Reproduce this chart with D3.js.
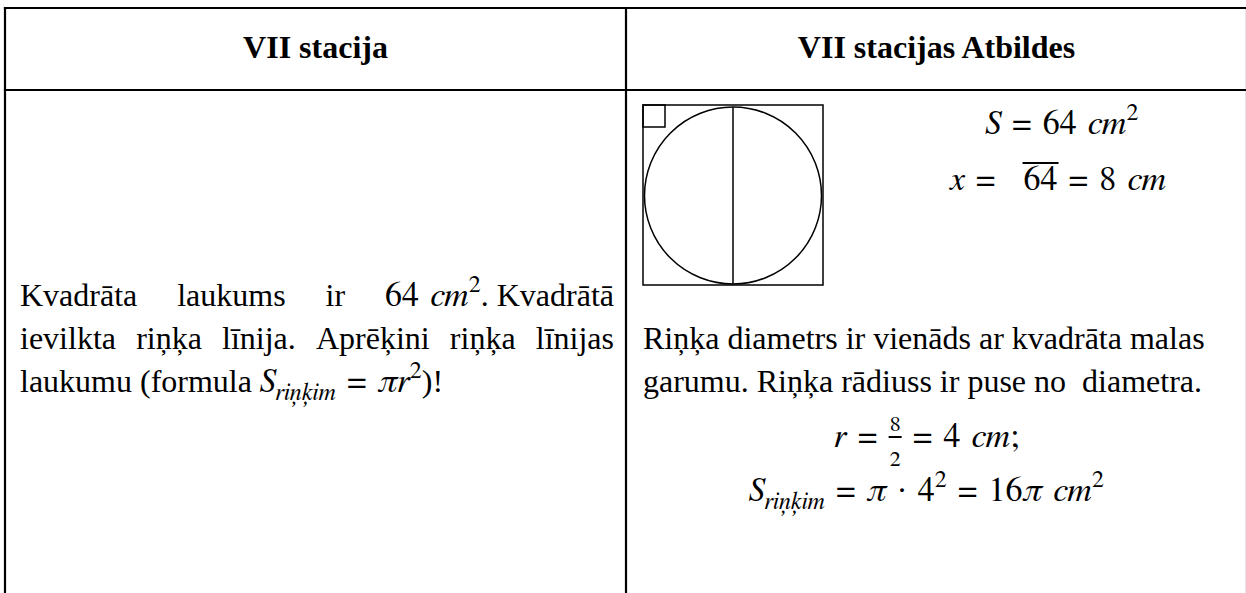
<!DOCTYPE html>
<html>
<head>
<meta charset="utf-8">
<script src="https://cdn.jsdelivr.net/npm/d3@7"></script>
<style>
  body { margin: 0; background: #fff; }
</style>
</head>
<body>
<svg id="chart" width="1246" height="593"></svg>
<script>
//
// Data
//

// column headings
const headers = ["VII stacija", "VII stacijas Atbildes"];

// task text (left column): each line is a list of words, each word a list of [text, kind] runs
const taskLines = [
  [[["Kvadrāta"]], [["laukums"]], [["ir"]], [["64\u2004", "n"], ["cm", "m"], ["2", "sup"], [".\u00a0Kvadrātā"]]],
  [[["ievilkta"]], [["riņķa"]], [["līnija."]], [["Aprēķini"]], [["riņķa"]], [["līnijas"]]],
  [[["laukumu\u00a0(formula\u00a0"], ["S", "m"], ["riņķim", "sub"], ["\u2004=\u2004", "n"], ["πr", "m"], ["2", "sup"], [")!"]]]
];

// answer formulas next to the drawing
const answerTop = [
  [["S", "m"], ["\u2004=\u200464\u2004", "n"], ["cm", "m"], ["2", "sup"]],
  [["x", "m"], ["\u2004=\u2004\u2004\u2009", "n"], ["64", "ol"], ["\u2004=\u20048\u2004", "n"], ["cm", "m"]]
];

// answer text lines (right column)
const answerLines = [
  "Riņķa diametrs ir vienāds ar kvadrāta malas",
  "garumu. Riņķa rādiuss ir puse no\u00a0 diametra."
];

// answer formulas below the text
const answerBottom = [
  [["r", "m"], ["\u2004=\u2004", "n"], ["8|2", "frac"], ["\u2004=\u20044\u2004", "n"], ["cm", "m"], [";", "n"]],
  [["S", "m"], ["riņķim", "sub"], ["\u2004=\u2004", "n"], ["π", "m"], ["\u2004·\u2004", "n"], ["4", "n"], ["2", "sup"],
   ["\u2004=\u200416", "n"], ["π", "m"], ["\u2004", "n"], ["cm", "m"], ["2", "sup"]]
];

//
// Styles
//

const textFont = "Liberation Serif";
const mathFont = "FreeSerif";
const kinds = {
  t:   { size: 32, italic: false, dy: 0,   font: textFont },
  m:   { size: 34, italic: true,  dy: 0,   font: mathFont },
  n:   { size: 34, italic: false, dy: 0,   font: mathFont },
  ol:  { size: 34, italic: false, dy: 0,   font: mathFont },
  sup: { size: 24, italic: false, dy: -14, font: mathFont },
  sub: { size: 24, italic: true,  dy: 8,   font: mathFont }
};

const borderWidth = 2.2;

//
// Layout
//

const svg = d3.select("#chart");
const W = +svg.attr("width"), H = +svg.attr("height");

const col = d3.scaleBand().domain(headers).range([5, 1247]).padding(0);
const row = d3.scaleOrdinal().domain(["head", "body"]).range([8, 90]);

// draws a list of runs, returns its width
function drawRuns(g, list, x, y, anchor) {
  const parts = list.map(function(r) {
    const text = r[0], kind = r[1] || "t";
    if (kind === "frac") {
      const nd = text.split("|");
      const fg = g.append("g");
      const num = fg.append("text").attr("font-family", mathFont).attr("font-size", 22)
        .attr("text-anchor", "middle").attr("y", y - 16).text(nd[0]);
      const den = fg.append("text").attr("font-family", mathFont).attr("font-size", 22)
        .attr("text-anchor", "middle").attr("y", y + 19).text(nd[1]);
      const w = Math.max(num.node().getComputedTextLength(), den.node().getComputedTextLength()) + 2;
      const bar = fg.append("line").attr("y1", y - 10).attr("y2", y - 10).attr("stroke", "#000").attr("stroke-width", 2);
      return {
        w: w,
        place: function(cx) {
          num.attr("x", cx + w / 2); den.attr("x", cx + w / 2);
          bar.attr("x1", cx).attr("x2", cx + w);
        }
      };
    }
    const st = kinds[kind];
    const el = g.append("text")
      .attr("y", y + st.dy)
      .attr("font-family", st.font)
      .attr("font-size", st.size)
      .attr("font-style", st.italic ? "italic" : "normal")
      .attr("fill", "#000")
      .text(text);
    const w = el.node().getComputedTextLength();
    let over;
    if (kind === "ol") {
      over = g.append("line").attr("y1", y - 27).attr("y2", y - 27).attr("stroke", "#000").attr("stroke-width", 2.2);
    }
    return {
      w: w,
      place: function(cx) {
        el.attr("x", cx);
        if (over) over.attr("x1", cx - 1).attr("x2", cx + w + 1);
      }
    };
  });
  const total = d3.sum(parts, function(p) { return p.w; });
  let cx = anchor === "middle" ? x - total / 2 : x;
  parts.forEach(function(p) { p.place(cx); cx += p.w; });
  return total;
}

// justified line: spread the words between x0 and x1
function drawJustified(g, words, x0, x1, y, justify) {
  const wg = words.map(function(w) {
    const sub = g.append("g");
    const width = drawRuns(sub, w, 0, y, "start");
    return { g: sub, w: width };
  });
  const gap = justify && wg.length > 1
    ? (x1 - x0 - d3.sum(wg, function(d) { return d.w; })) / (wg.length - 1)
    : 7;
  let cx = x0;
  wg.forEach(function(d) {
    d.g.attr("transform", "translate(" + cx + ",0)");
    cx += d.w + gap;
  });
}

//
// Table
//

const grid = svg.append("g").attr("stroke", "#000").attr("stroke-width", borderWidth);
grid.append("line").attr("x1", col(headers[0]) - borderWidth / 2).attr("x2", W).attr("y1", row("head")).attr("y2", row("head"));
grid.append("line").attr("x1", col(headers[0]) - borderWidth / 2).attr("x2", W).attr("y1", row("body")).attr("y2", row("body"));
headers.concat(["end"]).forEach(function(h, i) {
  const x = i < headers.length ? col(h) : col(headers[1]) + col.bandwidth();
  grid.append("line").attr("x1", x).attr("x2", x).attr("y1", row("head") - borderWidth / 2).attr("y2", H);
});

svg.selectAll("text.head")
  .data(headers)
  .join("text")
  .attr("class", "head")
  .attr("x", function(d) { return col(d) + col.bandwidth() / 2; })
  .attr("y", 58)
  .attr("text-anchor", "middle")
  .attr("font-family", textFont)
  .attr("font-size", 32)
  .attr("font-weight", "bold")
  .attr("fill", "#000")
  .text(function(d) { return d; });

//
// Left column: task
//

const left = svg.append("g");
const lx0 = col(headers[0]) + 15, lx1 = col(headers[0]) + col.bandwidth() - 12;
taskLines.forEach(function(words, i) {
  drawJustified(left, words, lx0, lx1, 306 + i * 43, i < taskLines.length - 1);
});

//
// Right column: drawing and answer
//

const right = svg.append("g");
const rx = col(headers[1]);
const sq = { x: rx + 17, y: 105, s: 180 };
const fig = right.append("g").attr("fill", "none").attr("stroke", "#000").attr("stroke-width", 1.5);
fig.append("rect").attr("x", sq.x).attr("y", sq.y).attr("width", sq.s).attr("height", sq.s);
fig.append("rect").attr("x", sq.x).attr("y", sq.y).attr("width", 22).attr("height", 22);
fig.append("circle").attr("cx", sq.x + sq.s / 2).attr("cy", sq.y + sq.s / 2 + 0.5).attr("r", sq.s / 2 - 1.5);
fig.append("line").attr("x1", sq.x + sq.s / 2).attr("x2", sq.x + sq.s / 2).attr("y1", sq.y + 2).attr("y2", sq.y + sq.s - 1);

drawRuns(right, answerTop[0], 1062, 134, "middle");
drawRuns(right, answerTop[1], 1058, 190, "middle");

answerLines.forEach(function(t, i) {
  drawRuns(right, [[t]], rx + 17, 349 + i * 43, "start");
});

const rc = rx + col.bandwidth() / 2 - 10;
drawRuns(right, answerBottom[0], rc, 447, "middle");
drawRuns(right, answerBottom[1], rc, 501, "middle");
</script>
</body>
</html>
